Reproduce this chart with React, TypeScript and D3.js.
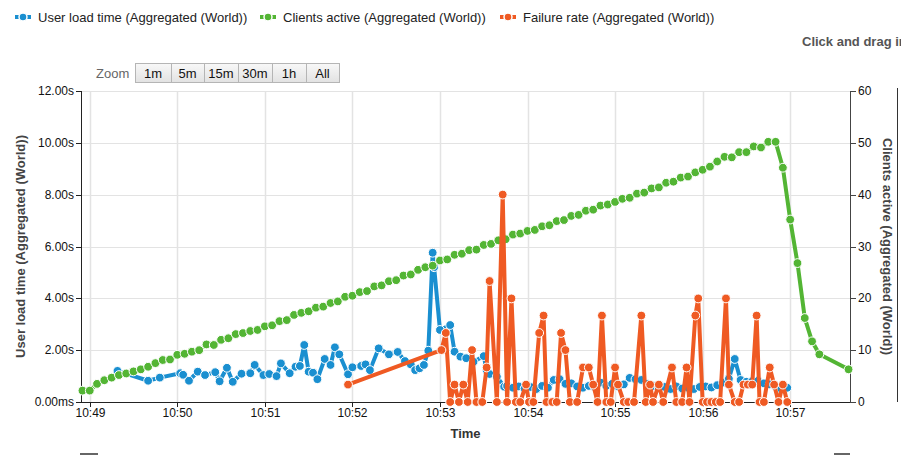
import React from 'react';
import * as d3 from 'd3';

// ---------- data ----------
const seriesNames = [
  'User load time (Aggregated (World))',
  'Clients active (Aggregated (World))',
  'Failure rate (Aggregated (World))',
];
const seriesColors = ['#1a8fd0', '#53b534', '#ef5a23'];

const leftTicks = [0, 2, 4, 6, 8, 10, 12];
const leftTickLabels = ['0.00ms', '2.00s', '4.00s', '6.00s', '8.00s', '10.00s', '12.00s'];
const rightTicks = [0, 10, 20, 30, 40, 50, 60];
const timeTicks = ['10:49', '10:50', '10:51', '10:52', '10:53', '10:54', '10:55', '10:56', '10:57'];
const zoomButtons = ['1m', '5m', '15m', '30m', '1h', 'All'];
// visible time window, seconds relative to 10:49:00
const xWindow = [-6, 521];

// User load time (seconds) — [seconds after 10:49:00, value]
const userLoadTime: [number, number][] = [
  [19, 1.2], [40, 0.82], [48, 0.94], [62, 1.11], [64, 1.05], [68, 0.82], [74, 1.17], [79, 1.04],
  [86, 1.15], [89, 0.8], [94, 1.32], [98, 0.78], [104, 1.09], [110, 1.11], [113, 1.43], [119, 1.04],
  [123, 1.08], [128, 1.0], [131, 1.49], [137, 1.11], [141, 1.36], [144, 1.39], [147, 2.2], [150, 1.17],
  [153, 1.13], [156, 0.88], [161, 1.66], [165, 1.43], [168, 2.11], [171, 1.84], [177, 1.07], [180, 1.34],
  [186, 1.39], [189, 1.45], [192, 1.23], [198, 2.07], [205, 1.84], [211, 1.93], [216, 1.58], [220, 1.45],
  [223, 1.23], [226, 1.3], [229, 1.43], [232, 1.98], [235, 5.76], [236, 5.2], [240, 2.78], [247, 2.97],
  [250, 1.94], [254, 1.75], [258, 1.69], [263, 1.55], [270, 1.77], [272, 1.23], [274, 1.08], [279, 0.98],
  [284, 0.59], [286, 0.62], [290, 0.55], [294, 0.6], [298, 0.52], [302, 0.58], [306, 0.5], [310, 0.62],
  [314, 0.55], [318, 0.85], [322, 0.88], [326, 0.7], [330, 0.72], [334, 0.6], [338, 0.55], [342, 0.62],
  [346, 0.58], [350, 0.75], [354, 0.62], [358, 0.7], [362, 0.6], [366, 0.68], [370, 0.93], [374, 0.88],
  [378, 0.85], [382, 0.7], [386, 0.62], [390, 0.55], [394, 0.58], [398, 0.5], [402, 0.6], [406, 0.52],
  [410, 0.55], [414, 0.5], [418, 0.58], [422, 0.6], [426, 0.56], [430, 0.65], [434, 0.75], [438, 0.9],
  [442, 1.66], [446, 0.85], [450, 0.78], [454, 0.8], [458, 0.82], [462, 0.72], [466, 0.68], [470, 0.6],
  [474, 0.5], [478, 0.55],
];

// Clients active — [seconds after 10:49:00, value]
const clientsActive: [number, number][] = [
  [-5, 2.2], [0, 2.2], [5, 3.5], [10, 4.2], [15, 4.7], [20, 5.2], [25, 5.5], [30, 5.9], [35, 6.3],
  [40, 6.8], [45, 7.5], [50, 8.1], [55, 8.2], [60, 9.1], [65, 9.3], [70, 9.7], [75, 10.0], [80, 11.1],
  [85, 11.0], [90, 12.0], [95, 12.3], [100, 13.1], [105, 13.3], [110, 13.7], [115, 13.9], [120, 14.6],
  [125, 14.8], [130, 15.6], [135, 15.8], [140, 16.8], [145, 17.2], [150, 17.5], [155, 18.2], [160, 18.4],
  [165, 19.1], [170, 19.4], [175, 20.3], [180, 20.5], [185, 21.2], [190, 21.4], [195, 22.3], [200, 22.5],
  [205, 23.3], [210, 23.5], [215, 24.4], [220, 24.6], [225, 25.5], [230, 26.0], [235, 26.3], [240, 27.3],
  [245, 27.5], [250, 28.4], [255, 28.6], [260, 29.3], [265, 29.4], [270, 30.3], [275, 30.5], [280, 31.2],
  [285, 31.4], [290, 32.3], [295, 32.5], [300, 33.0], [305, 33.2], [310, 33.9], [315, 34.1], [320, 34.9],
  [325, 35.1], [330, 35.9], [335, 36.1], [340, 36.9], [345, 37.1], [350, 37.9], [355, 38.1], [360, 38.6],
  [365, 39.2], [370, 39.4], [375, 40.2], [380, 40.4], [385, 41.2], [390, 41.4], [395, 42.3], [400, 42.5],
  [405, 43.3], [410, 43.5], [415, 44.3], [420, 44.8], [425, 45.4], [430, 46.4], [435, 47.3], [440, 47.2],
  [445, 48.2], [450, 48.2], [455, 49.3], [460, 49.1], [465, 50.2], [470, 50.2], [475, 45.2], [480, 35.2],
  [485, 26.8], [490, 16.2], [495, 11.7], [500, 9.2], [520, 6.3],
];

// Failure rate (%) — [seconds after 10:49:00, value]
const failureRate: [number, number][] = [
  [177, 5.6], [241, 16.7], [244, 22.2], [247, 0], [250, 5.6], [253, 0], [256, 5.6], [259, 0],
  [262, 16.7], [265, 0], [269, 0], [272, 11.1], [274, 38.9], [279, 0], [283, 66.7], [286, 0],
  [289, 33.3], [292, 0], [295, 0], [299, 5.6], [301, 0], [304, 0], [308, 22.2], [311, 27.8],
  [313, 0], [317, 0], [320, 0], [323, 22.2], [326, 16.7], [329, 0], [334, 0], [338, 11.1],
  [342, 11.1], [345, 5.6], [348, 0], [351, 27.8], [354, 0], [357, 0], [360, 11.1], [362, 5.6],
  [366, 0], [369, 0], [373, 0], [378, 27.8], [381, 0], [384, 5.6], [386, 0], [390, 5.6],
  [393, 0], [399, 11.1], [402, 0], [406, 0], [409, 11.1], [411, 0], [415, 27.8], [417, 33.3],
  [420, 0], [423, 0], [426, 0], [429, 0], [432, 0], [436, 33.3], [438, 5.6], [442, 0],
  [445, 0], [448, 5.6], [451, 5.6], [454, 5.6], [457, 27.8], [459, 0], [462, 0], [466, 11.1],
  [469, 5.6], [472, 0], [475, 5.6], [478, 0],
];

// ---------- chart ----------
const FONT = '"Liberation Sans", Arial, sans-serif';

export default function App() {
  const W = 901, H = 455;
  const L = 81, R = 850, T = 91, B = 402;
  const base = new Date(2020, 0, 1, 10, 49, 0).getTime();
  const toDate = (s: number) => new Date(base + s * 1000);

  const x = d3.scaleTime().domain([toDate(xWindow[0]), toDate(xWindow[1])]).range([L, R]);
  const yL = d3.scaleLinear().domain([0, 12]).range([B, T]);
  const yR = d3.scaleLinear().domain([0, 60]).range([B, T]);
  const yF = d3.scaleLinear().domain([0, 100]).range([B, T]);

  const tickSec = (lbl: string) => {
    const [h, m] = lbl.split(':').map(Number);
    return (h * 60 + m - (10 * 60 + 49)) * 60;
  };

  const series = [
    { data: userLoadTime, y: yL, color: seriesColors[0] },
    { data: clientsActive, y: yR, color: seriesColors[1] },
    { data: failureRate, y: yF, color: seriesColors[2] },
  ];

  const legendPos = [15, 260, 500];
  const btnX = [135, 171, 204, 238, 272, 306, 339];

  return (
    <svg
      width={W}
      height={H}
      style={{ position: 'absolute', left: 0, top: 0, background: '#fff' }}
      fontFamily={FONT}
    >
      <defs>
        <linearGradient id="btnGrad" x1="0" y1="0" x2="0" y2="1">
          <stop offset="0" stopColor="#f8f8f8" />
          <stop offset="1" stopColor="#e2e2e2" />
        </linearGradient>
      </defs>
      <rect x={0} y={0} width={W} height={H} fill="#fff" />

      {/* legend */}
      {seriesNames.map((n, i) => (
        <g key={n}>
          <line x1={legendPos[i]} x2={legendPos[i] + 16} y1={17} y2={17} stroke={seriesColors[i]} strokeWidth={4} />
          <circle cx={legendPos[i] + 8} cy={17} r={4} fill={seriesColors[i]} stroke="#fff" strokeWidth={1.5} />
          <text x={legendPos[i] + 23} y={21.5} fontSize={13} fill="#222">{n}</text>
        </g>
      ))}

      {/* subtitle (cut by the right edge, as in the reference) */}
      <text x={802} y={46} fontSize={13} fontWeight="bold" fill="#555">Click and drag in the plot area to zoom in</text>

      {/* range selector */}
      <text x={96} y={78} fontSize={13} fill="#666">Zoom</text>
      {zoomButtons.map((b, i) => (
        <g key={b}>
          <rect x={btnX[i] + 0.5} y={63.5} width={btnX[i + 1] - btnX[i]} height={19} fill="url(#btnGrad)" stroke="#b5b5b5" />
          <text x={(btnX[i] + btnX[i + 1]) / 2} y={78} fontSize={13} textAnchor="middle" fill="#111">{b}</text>
        </g>
      ))}

      {/* gridlines */}
      {leftTicks.map((t) => (
        <line key={'h' + t} x1={L} x2={R} y1={Math.round(yL(t)) + 0.5} y2={Math.round(yL(t)) + 0.5} stroke="#e3e3e3" />
      ))}
      {timeTicks.map((t) => {
        const xx = Math.round(x(toDate(tickSec(t)))) + 0.5;
        return <line key={'v' + t} x1={xx} x2={xx} y1={T} y2={B} stroke="#e3e3e3" strokeWidth={1.5} />;
      })}

      {/* axes */}
      <line x1={L + 0.5} x2={L + 0.5} y1={T} y2={B} stroke="#222" />
      <line x1={R + 0.5} x2={R + 0.5} y1={T} y2={B} stroke="#444" />
      <line x1={L} x2={R} y1={B + 0.5} y2={B + 0.5} stroke="#222" />
      {leftTicks.map((t, i) => (
        <g key={'lt' + t}>
          <line x1={L - 5} x2={L} y1={Math.round(yL(t)) + 0.5} y2={Math.round(yL(t)) + 0.5} stroke="#222" />
          <text x={L - 7} y={yL(t) + 4} fontSize={12} textAnchor="end" fill="#111">{leftTickLabels[i]}</text>
        </g>
      ))}
      {rightTicks.map((t) => (
        <g key={'rt' + t}>
          <line x1={R} x2={R + 6} y1={Math.round(yR(t)) + 0.5} y2={Math.round(yR(t)) + 0.5} stroke="#444" />
          <text x={R + 8} y={yR(t) + 4} fontSize={12} fill="#111">{t}</text>
        </g>
      ))}
      {timeTicks.map((t) => {
        const xx = Math.round(x(toDate(tickSec(t)))) + 0.5;
        return (
          <g key={'bt' + t}>
            <line x1={xx} x2={xx} y1={B} y2={B + 5} stroke="#222" />
            <text x={xx} y={417} fontSize={12} textAnchor="middle" fill="#111">{t}</text>
          </g>
        );
      })}

      {/* axis titles */}
      <text
        transform={`translate(25,${(T + B) / 2}) rotate(-90)`}
        textAnchor="middle"
        fontSize={13}
        fontWeight="bold"
        fill="#444"
      >
        User load time (Aggregated (World))
      </text>
      <text
        transform={`translate(883,${(T + B) / 2}) rotate(90)`}
        textAnchor="middle"
        fontSize={13}
        fontWeight="bold"
        fill="#444"
      >
        Clients active (Aggregated (World))
      </text>
      <text x={(L + R) / 2} y={438} textAnchor="middle" fontSize={13} fontWeight="bold" fill="#333">Time</text>

      {/* series */}
      {series.map((s, i) => {
        const line = d3
          .line<[number, number]>()
          .x((d) => x(toDate(d[0])))
          .y((d) => s.y(d[1]));
        return (
          <g key={'s' + i}>
            <path d={line(s.data) || ''} fill="none" stroke={s.color} strokeWidth={4} strokeLinejoin="round" strokeLinecap="round" />
            {s.data.map((d, j) => (
              <circle key={j} cx={x(toDate(d[0]))} cy={s.y(d[1])} r={4.4} fill={s.color} stroke="#fff" strokeWidth={1} />
            ))}
          </g>
        );
      })}

      {/* container edges / navigator remnants */}
      <line x1={897.5} x2={897.5} y1={88} y2={402} stroke="#333" />
      <line x1={80} x2={98} y1={454} y2={454} stroke="#333" strokeWidth={1.5} />
      <line x1={834} x2={850} y1={454} y2={454} stroke="#333" strokeWidth={1.5} />
    </svg>
  );
}
